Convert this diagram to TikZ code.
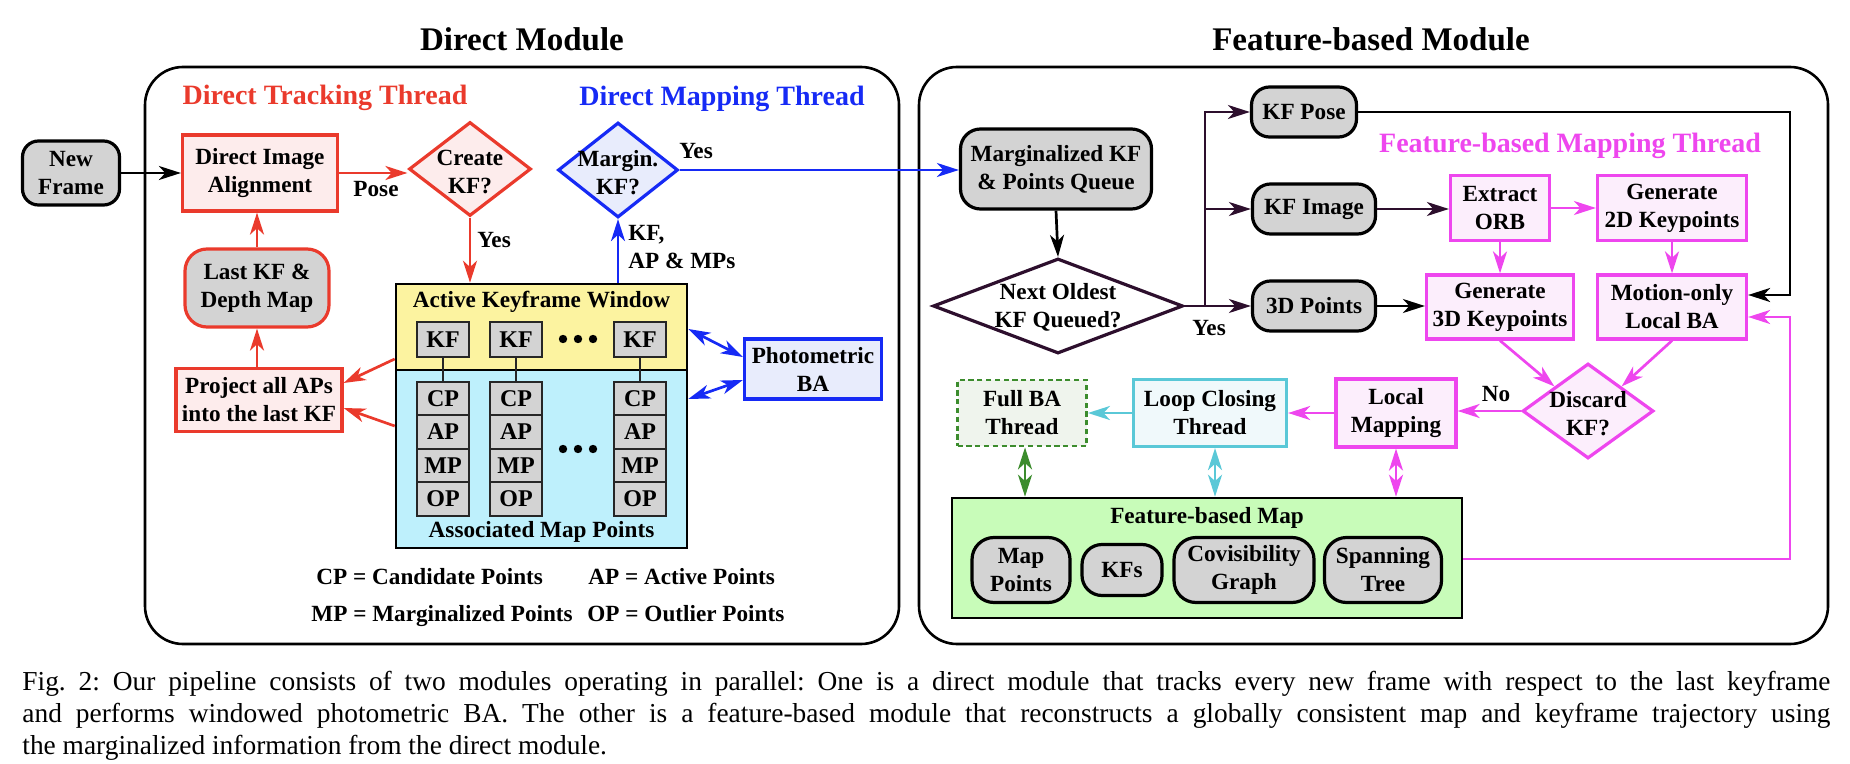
\documentclass[tikz,border=0pt]{standalone}
\usepackage{fontspec}
\setmainfont{Liberation Serif}
\usetikzlibrary{arrows.meta,shapes.geometric,calc}
\definecolor{redc}{RGB}{234,58,44}
\definecolor{redfill}{RGB}{253,236,236}
\definecolor{bluec}{RGB}{22,42,245}
\definecolor{bluefill}{RGB}{232,236,252}
\definecolor{magc}{RGB}{238,70,238}
\definecolor{magfill}{RGB}{252,238,252}
\definecolor{cyanc}{RGB}{90,200,215}
\definecolor{cyanfill}{RGB}{240,249,251}
\definecolor{greenc}{RGB}{60,140,45}
\definecolor{greenfill}{RGB}{239,244,237}
\definecolor{grayc}{RGB}{211,211,211}
\definecolor{yellowc}{RGB}{252,243,160}
\definecolor{lbluec}{RGB}{190,240,252}
\definecolor{mapgreen}{RGB}{200,252,185}
\definecolor{darkp}{RGB}{45,15,45}
\begin{document}
\begin{tikzpicture}[x=0.5pt,y=-0.5pt,
  base/.style={font=\bfseries\fontsize{11.6}{14}\selectfont, align=center, inner sep=0pt, text=black},
  titlefont/.style={font=\bfseries\fontsize{16.5}{19}\selectfont, inner sep=0pt},
  threadfont/.style={font=\bfseries\fontsize{14}{16}\selectfont, inner sep=0pt},
  redbox/.style={base, rectangle, draw=redc, fill=redfill, line width=1.6pt},
  redround/.style={base, rectangle, rounded corners=11pt, draw=redc, fill=grayc, line width=1.6pt},
  graybox/.style={base, rectangle, rounded corners=10pt, draw=black, fill=grayc, line width=1.6pt},
  bluebox/.style={base, rectangle, draw=bluec, fill=bluefill, line width=1.6pt},
  magbox/.style={base, rectangle, draw=magc, fill=magfill, line width=1.6pt},
  dmd/.style={diamond, inner sep=0pt, line width=1.6pt},
  smallbox/.style={base, rectangle, draw=black!85, fill=grayc, line width=0.8pt, minimum width=26pt, font=\bfseries\fontsize{12}{14}\selectfont},
  tip/.tip={Stealth[length=11pt,width=7pt,inset=3.2pt]},
  conn/.style={line width=1.35pt, -tip},
  dconn/.style={line width=1.35pt, tip-tip},
  thinline/.style={line width=0.8pt, draw=black!85}
]
\useasboundingbox (0,0) rectangle (1850,764);

% module frames
\draw[line width=1.3pt, rounded corners=19pt] (145,67) rectangle (899,644);
\draw[line width=1.3pt, rounded corners=19pt] (919,67) rectangle (1828,644);
\node[titlefont, anchor=base] (tdirect) at (522,51) {Direct Module};
\node[titlefont, anchor=base] (tfeat) at (1371,51) {Feature-based Module};
\node[threadfont, anchor=base, text=redc] (tdt) at (325,105) {Direct Tracking Thread};
\node[threadfont, anchor=base, text=bluec] (tdm) at (722,106) {Direct Mapping Thread};
\node[threadfont, anchor=base, text=magc] (tfm) at (1570,153) {Feature-based Mapping Thread};

% ---------- direct module ----------
\node[graybox, minimum width=48.5pt, minimum height=32pt, rounded corners=8pt] (newframe) at (71,173) {New\\Frame};
\node[redbox, minimum width=77.5pt, minimum height=38pt] (dia) at (260,173) {Direct Image\\Alignment};
\node[dmd, draw=redc, fill=redfill, minimum width=61pt, minimum height=47pt] (createkf) at (470,169) {};
\node[base] (createkft) at (470,172) {Create\\KF?};
\node[redround, minimum width=72pt, minimum height=39pt] (lastkf) at (257,288) {Last KF \&\\Depth Map};
\node[redbox, minimum width=83pt, minimum height=31.5pt] (project) at (259,400) {Project all APs\\into the last KF};
\node[dmd, draw=bluec, fill=bluefill, minimum width=60pt, minimum height=47.5pt] (margin) at (618,170) {};
\node[base] (margint) at (618,173) {Margin.\\KF?};

\node[rectangle, draw=black, line width=1.3pt, fill=yellowc, minimum width=145.5pt, minimum height=43pt, inner sep=0pt] (akw) at (541.5,327) {};
\node[rectangle, draw=black, line width=1.3pt, fill=lbluec, minimum width=145.5pt, minimum height=89pt, inner sep=0pt] (amp) at (541.5,459) {};
\node[base] (akwt) at (541.5,302) {Active Keyframe Window};
\node[base] (ampt) at (541.5,532) {Associated Map Points};

\foreach \i/\x in {1/443,2/516,3/640}{
  \node[smallbox, minimum height=17.5pt] (kf\i) at (\x,339.5) {KF};
  \node[smallbox, minimum height=16.75pt] (cp\i) at (\x,398.5) {CP};
  \node[smallbox, minimum height=16.75pt] (ap\i) at (\x,432) {AP};
  \node[smallbox, minimum height=16.75pt] (mp\i) at (\x,465.5) {MP};
  \node[smallbox, minimum height=16.75pt] (op\i) at (\x,499) {OP};
  \draw[thinline] (kf\i.south) -- (cp\i.north);
}
\foreach \dx in {-15,0,15}{
  \fill (578+\dx,339) circle (2.1pt);
  \fill (578+\dx,449) circle (2.1pt);
}
\node[bluebox, minimum width=68.5pt, minimum height=30pt] (pba) at (813,369) {Photometric\\BA};

\node[base, anchor=base west] (lg1) at (316,584) {CP = Candidate Points};
\node[base, anchor=base west] (lg2) at (588,584) {AP = Active Points};
\node[base, anchor=base west] (lg3) at (311,621) {MP = Marginalized Points};
\node[base, anchor=base west] (lg4) at (587,621) {OP = Outlier Points};

% direct connectors
\draw[conn, black] (newframe.east) -- (dia.west);
\draw[conn, redc] (dia.east) -- (dia.east -| createkf.west);
\node[base] (posel) at (376,189) {Pose};
\draw[conn, redc] (createkf.south) -- (createkf.south |- akw.north);
\node[base] (yes1) at (494,240) {Yes};
\draw[conn, redc] (lastkf.north) -- (dia.south -| lastkf.north);
\draw[conn, redc] (project.north -| lastkf.south) -- (lastkf.south);
\draw[conn, redc] (akw.west |- 0,359) -- (project.east |- 0,383);
\draw[conn, redc] (amp.west |- 0,426) -- (project.east |- 0,408);
\draw[conn, bluec] (margin.south |- akw.north) -- (margin.south);
\node[base, align=left, anchor=west] (kfapl) at (628,247) {KF,\\AP \& MPs};
\draw[dconn, bluec] (akw.east |- 0,329) -- (pba.west |- 0,357);
\draw[dconn, bluec] (amp.east |- 0,399) -- (pba.west |- 0,380);

% ---------- feature-based module ----------
\node[graybox, minimum width=95.5pt, minimum height=40pt] (mq) at (1056,169) {Marginalized KF\\\& Points Queue};
\node[dmd, draw=darkp, fill=white, minimum width=125pt, minimum height=47.5pt] (nextold) at (1058,306) {};
\node[base] (nextoldt) at (1058,307) {Next Oldest\\KF Queued?};
\node[graybox, minimum width=52.5pt, minimum height=25pt, rounded corners=9pt] (kfpose) at (1304,112) {KF Pose};
\node[graybox, minimum width=61.5pt, minimum height=25pt, rounded corners=9pt] (kfimage) at (1314,209) {KF Image};
\node[graybox, minimum width=61.5pt, minimum height=25pt, rounded corners=9pt] (pts3d) at (1314,306) {3D Points};
\node[magbox, minimum width=49.5pt, minimum height=32.5pt] (extract) at (1500,208) {Extract\\ORB};
\node[magbox, minimum width=74.5pt, minimum height=32.5pt] (gen2d) at (1672,208) {Generate\\2D Keypoints};
\node[magbox, minimum width=73.5pt, minimum height=32pt] (gen3d) at (1500,307) {Generate\\3D Keypoints};
\node[magbox, minimum width=74.5pt, minimum height=32pt] (motion) at (1672,307) {Motion-only\\Local BA};
\node[dmd, draw=magc, fill=magfill, minimum width=65.5pt, minimum height=47.5pt] (discard) at (1588,411) {};
\node[base] (discardt) at (1588,414) {Discard\\KF?};
\node[magbox, minimum width=60pt, minimum height=34pt] (localmap) at (1396,413) {Local\\Mapping};
\node[base, rectangle, draw=cyanc, fill=cyanfill, line width=1.6pt, minimum width=76.5pt, minimum height=33.5pt] (loopclose) at (1210,413) {Loop Closing\\Thread};
\node[base, rectangle, draw=greenc, fill=greenfill, line width=1.4pt, dash pattern=on 2.6pt off 1.8pt, minimum width=64.5pt, minimum height=33pt] (fullba) at (1022,413) {Full BA\\Thread};
\node[rectangle, draw=black, line width=1.3pt, fill=mapgreen, minimum width=255pt, minimum height=60pt, inner sep=0pt] (fbm) at (1207,558) {};
\node[base] (fbmt) at (1207,518) {Feature-based Map};
\node[graybox, minimum width=49pt, minimum height=32.5pt, rounded corners=11pt] (mappts) at (1021,570) {Map\\Points};
\node[graybox, minimum width=40pt, minimum height=25.5pt, rounded corners=10pt] (kfs) at (1122,570) {KFs};
\node[graybox, minimum width=70pt, minimum height=32.5pt, rounded corners=11pt] (covis) at (1244,570) {Covisibility\\Graph};
\node[graybox, minimum width=58.5pt, minimum height=32.5pt, rounded corners=11pt] (span) at (1383,570) {Spanning\\Tree};

% feature connectors
\draw[conn, bluec] (margin.east) -- (margin.east -| mq.west);
\node[base] (yes2) at (696,151) {Yes};
\draw[conn, black] (mq.south) -- (nextold.north);
\coordinate (jn) at (1205,306);
\draw[conn, darkp] (nextold.east) -- (pts3d.west);
\draw[conn, darkp] (jn) |- (kfpose.west);
\draw[conn, darkp] (jn) |- (kfimage.west);
\node[base] (yes3) at (1209,328) {Yes};
\coordinate (rtop) at (1790,112);
\coordinate (rmid) at (1790,295);
\draw[conn, black] (kfpose.east) -- (rtop) -- (rmid) -- (motion.east |- rmid);
\draw[conn, darkp] (kfimage.east) -- (extract.west |- kfimage.east);
\draw[conn, black] (pts3d.east) -- (gen3d.west |- pts3d.east);
\draw[conn, magc] (extract.east) -- (gen2d.west);
\draw[conn, magc] (extract.south) -- (gen3d.north);
\draw[conn, magc] (gen2d.south) -- (motion.north);
\draw[conn, magc] (gen3d.south) -- (discard.north west);
\draw[conn, magc] (motion.south) -- (discard.north east);
\draw[conn, magc] (discard.west) -- (localmap.east |- discard.west);
\node[base] (nol) at (1496,394) {No};
\draw[conn, magc] (localmap.west) -- (loopclose.east);
\draw[conn, cyanc] (loopclose.west) -- (fullba.east);
\draw[dconn, greenc] (fullba.south -| 1025,0) -- (fbm.north -| 1025,0);
\draw[dconn, cyanc] (loopclose.south -| 1215,0) -- (fbm.north -| 1215,0);
\draw[dconn, magc] (localmap.south) -- (fbm.north -| localmap.south);
\coordinate (rbot) at (1790,559);
\coordinate (rlow) at (1790,317);
\draw[conn, magc] (fbm.east |- rbot) -- (rbot) -- (rlow) -- (motion.east |- rlow);

% caption
\node[anchor=north west, inner sep=0pt, text width=904pt, align=justify, font=\fontsize{13.7}{16}\selectfont] (caption) at (22,671)
{\frenchspacing Fig. 2: Our pipeline consists of two modules operating in parallel: One is a direct module that tracks every new frame with respect to the last keyframe\linebreak
and performs windowed photometric BA. The other is a feature-based module that reconstructs a globally consistent map and keyframe trajectory using\linebreak
the marginalized information from the direct module.};
\end{tikzpicture}
\end{document}
